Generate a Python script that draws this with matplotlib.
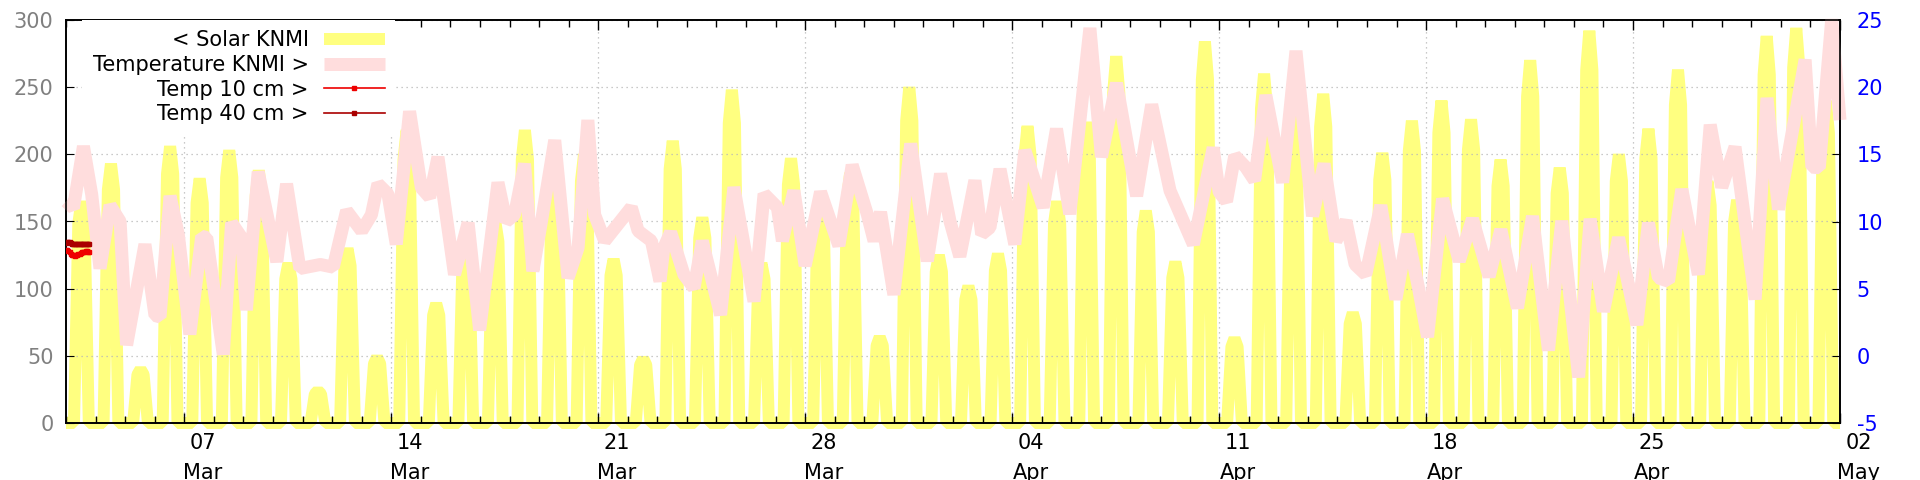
import matplotlib
matplotlib.use('Agg')
import matplotlib.pyplot as plt
import matplotlib.dates as mdates
import matplotlib.transforms as mtransforms
import numpy as np

plt.rcParams['font.family'] = ['DejaVu Sans']
plt.rcParams['font.size'] = 15
plt.rcParams['axes.unicode_minus'] = False

# data ---------------------------------------------------------------------
start = np.datetime64('2021-03-03T00:00')

# daily peak of solar radiation (W/m2), 3 Mar .. 1 May
solar_peak = [165, 193, 40, 206, 182, 203, 188, 119, 24, 130,
              49, 218, 89, 140, 150, 218, 180, 200, 122, 48,
              210, 153, 248, 119, 197, 170, 186, 64, 250, 125,
              102, 126, 221, 165, 224, 273, 158, 120, 284, 63,
              260, 230, 245, 82, 201, 225, 240, 226, 196, 270,
              190, 292, 200, 219, 263, 180, 166, 288, 294, 240]
# course of a day: hour and share of the daily peak
solar_hours = [0, 6.5, 10, 12.5, 15, 18.5]
solar_share = [0, 0, 0.9, 1, 0.9, 0]

# air temperature KNMI (days after 3 Mar, degC)
temp_day = [0.0, 0.25, 0.59, 0.87, 1.15, 1.49, 1.83, 2.05, 2.67, 3.01,
            3.18, 3.52, 3.8, 4.19, 4.59, 4.76, 5.32, 5.6, 5.94, 6.1,
            6.5, 7.13, 7.46, 7.91, 8.6, 9.04, 9.49, 10.0, 10.33, 10.55,
            10.89, 11.17, 11.62, 12.02, 12.3, 12.58, 13.14, 13.6, 13.99, 14.61,
            14.89, 15.17, 15.51, 15.79, 16.08, 16.53, 16.98, 17.32, 17.65, 17.88,
            18.22, 18.67, 19.12, 19.35, 19.8, 20.09, 20.22, 20.45, 20.9, 21.24,
            21.52, 22.14, 22.59, 23.27, 23.61, 24.06, 24.23, 24.62, 25.0, 25.52,
            26.14, 26.59, 27.1, 27.33, 27.55, 28.0, 28.57, 29.13, 29.58, 29.9,
            30.23, 30.74, 30.97, 31.25, 31.59, 32.09, 32.43, 33.05, 33.5, 33.95,
            34.63, 35.02, 35.53, 36.21, 36.72, 37.34, 38.13, 38.8, 39.0, 39.25,
            39.53, 39.9, 40.2, 40.58, 41.15, 41.6, 42.16, 42.55, 42.95, 43.29,
            43.6, 43.96, 44.47, 44.98, 45.37, 45.75, 46.05, 46.56, 47.12, 47.57,
            48.13, 48.53, 49.09, 49.6, 50.14, 50.59, 51.16, 51.55, 52.0, 52.51,
            53.13, 53.52, 53.86, 54.2, 54.65, 55.21, 55.61, 56.0, 56.45, 57.13,
            57.53, 57.92, 58.82, 59.05, 59.3, 59.72, 60.0]
temp_val = [11.5, 11.0, 15.6, 12.0, 6.5, 11.2, 10.0, 0.8, 8.3, 3.0,
            2.9, 11.9, 9.0, 1.6, 8.9, 8.8, 0.1, 9.9, 8.8, 3.4,
            13.7, 7.0, 12.8, 6.5, 6.8, 6.6, 10.8, 9.3, 10.5, 12.8,
            12.05, 8.3, 18.2, 12.5, 11.8, 14.8, 6.05, 9.9, 1.9, 12.9,
            10.0, 10.5, 14.3, 6.3, 10.0, 16.05, 5.8, 8.05, 17.55, 10.5,
            8.55, 9.8, 11.05, 9.3, 8.55, 5.55, 8.05, 9.2, 6.05, 5.05,
            8.55, 3.05, 12.55, 4.05, 12.05, 11.05, 8.55, 12.3, 6.7, 12.2,
            8.2, 14.2, 10.55, 8.55, 10.7, 4.55, 15.8, 7.05, 13.55, 10.0,
            7.4, 13.05, 9.05, 9.55, 13.9, 8.3, 15.3, 11.05, 16.9, 10.55,
            24.4, 14.8, 20.3, 11.9, 18.7, 12.3, 8.3, 15.5, 12.2, 11.5,
            14.9, 14.05, 13.05, 19.4, 12.9, 22.7, 10.4, 14.3, 8.55, 10.05,
            6.8, 6.05, 11.2, 4.2, 9.05, 5.0, 1.4, 11.7, 7.05, 10.2,
            5.9, 9.4, 3.55, 10.4, 0.4, 10.05, -1.6, 10.2, 3.3, 8.8,
            2.3, 9.9, 5.8, 5.55, 12.4, 6.05, 17.2, 12.55, 15.55, 4.2,
            19.2, 10.9, 22.05, 14.05, 14.0, 25.05, 17.55]

# soil temperature, hourly, only on the first day
soil_hours = list(range(20))
temp10_val = [7.9, 7.85, 7.8, 7.7, 7.6, 7.5, 7.5, 7.45, 7.5, 7.5,
              7.55, 7.6, 7.65, 7.7, 7.75, 7.75, 7.8, 7.8, 7.75, 7.7]
temp40_val = [8.4, 8.45, 8.5, 8.45, 8.4, 8.35, 8.35, 8.3, 8.3, 8.3,
              8.3, 8.3, 8.3, 8.3, 8.3, 8.3, 8.3, 8.35, 8.35, 8.35]

# series op tijd zetten --------------------------------------------------------
t0 = mdates.date2num(start)
solar_x, solar_y = [], []
for k, p in enumerate(solar_peak):
    for h, f in zip(solar_hours, solar_share):
        solar_x.append(t0 + k + h / 24)
        solar_y.append(f * p)
solar_x.append(t0 + len(solar_peak))
solar_y.append(0)

temp_x = t0 + np.array(temp_day)
soil_x = t0 + np.array(soil_hours) / 24

# plot ------------------------------------------------------------------------
fig = plt.figure(figsize=(19.2, 4.8), dpi=100)
ax = fig.add_axes([66 / 1920, 57 / 480, 1774 / 1920, 403 / 480])
ax2 = ax.twinx()

px = 72 / 100
l_solar, = ax.plot(solar_x, solar_y, color='#ffff80', lw=12 * px,
                   solid_joinstyle='bevel', solid_capstyle='butt',
                   clip_on=False, zorder=1)
l_temp, = ax2.plot(temp_x, temp_val, color='#ffdddd', lw=13 * px,
                   solid_joinstyle='bevel', solid_capstyle='butt',
                   clip_on=False, zorder=2)
l_t10, = ax2.plot(soil_x, temp10_val, color='#ee0000', lw=1.2,
                  marker='s', ms=3, zorder=3)
l_t40, = ax2.plot(soil_x, temp40_val, color='#aa0000', lw=1.2,
                  marker='s', ms=3, zorder=3)

ax.set_xlim(t0, t0 + 60)
ax.set_ylim(0, 300)
ax2.set_ylim(-5, 25)
ax.set_yticks(np.arange(0, 301, 50))
ax2.set_yticks(np.arange(-5, 26, 5))

ax.set_xticks(t0 + np.arange(4, 61, 7))
ax.xaxis.set_minor_locator(mdates.DayLocator())
ax.xaxis.set_major_formatter(mdates.DateFormatter('%d\n%b'))

ax.tick_params(axis='x', which='both', direction='in', top=True, width=1)
ax.tick_params(axis='x', which='major', length=7, pad=7, labelcolor='black')
ax.tick_params(axis='x', which='minor', length=5)
ax.tick_params(axis='y', direction='in', length=6, pad=9, labelcolor='#808080')
ax2.tick_params(axis='y', direction='in', length=6, pad=12, labelcolor='#0000ff')

# labels iets naar rechts, zoals in het origineel
offset = mtransforms.ScaledTranslation(0.185, 0, fig.dpi_scale_trans)
for lbl in ax.get_xticklabels():
    lbl.set_linespacing(1.65)
    lbl.set_transform(lbl.get_transform() + offset)

ax.grid(True, which='major', color='#b8b8b8', linestyle=(0, (1, 3)), lw=0.9)
ax.set_axisbelow('line')

for a in (ax, ax2):
    for s in a.spines.values():
        s.set_linewidth(1.2)

leg = ax2.legend([l_solar, l_temp, l_t10, l_t40],
                 ['< Solar KNMI', 'Temperature KNMI >', 'Temp 10 cm >', 'Temp 40 cm >'],
                 loc='upper right', bbox_to_anchor=(395 / 1920, 460 / 480),
                 bbox_transform=fig.transFigure, markerfirst=False,
                 frameon=True, fancybox=False, framealpha=1,
                 facecolor='white', edgecolor='none', borderpad=0.5,
                 borderaxespad=0, handlelength=2.9, handletextpad=0.75,
                 labelspacing=0.22, fontsize=15)

fig.savefig('out.png', dpi=100)
